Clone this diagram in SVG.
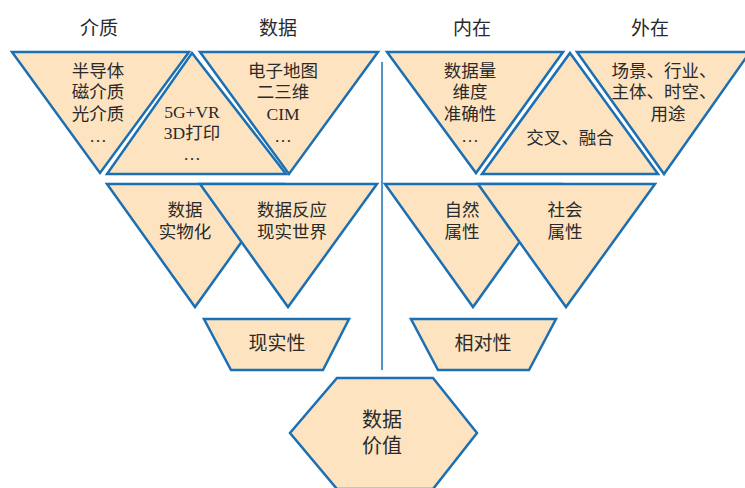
<svg xmlns="http://www.w3.org/2000/svg" width="745" height="488" viewBox="0 0 745 488">
<style>
.s{fill:#fde3c0;stroke:#1b6fb3;stroke-width:2.5;stroke-linejoin:miter}
text{font-family:"Liberation Serif","Noto Sans CJK SC",serif;fill:#2a2a2a;text-anchor:middle;dominant-baseline:central}
.h{font-size:19px}
.t{font-size:17.5px}
.m{font-size:19px}
.v{font-size:20px}
</style>
<rect width="745" height="488" fill="#fff"/>
<g id="headers">
<text class="h" x="99" y="28">介质</text>
<text class="h" x="278" y="28">数据</text>
<text class="h" x="472" y="28">内在</text>
<text class="h" x="650" y="28">外在</text>
</g>
<g id="connectors">
<line x1="382" y1="62" x2="382" y2="370" stroke="#1b6fb3" stroke-width="1.5"/>
</g>
<g id="medium">
<polygon class="s" points="12,52 189,52 100,173"/>
<text class="t" x="98" y="71">半导体</text>
<text class="t" x="98" y="92">磁介质</text>
<text class="t" x="98" y="114">光介质</text>
<text class="t" x="98" y="136">…</text>
</g>
<g id="tech">
<polygon class="s" points="192,53 286,174 107,174"/>
<text class="t" x="192" y="112">5G+VR</text>
<text class="t" x="192" y="133">3D打印</text>
<text class="t" x="192" y="154">…</text>
</g>
<g id="data">
<polygon class="s" points="200,52 378,52 289,174"/>
<text class="t" x="283" y="71">电子地图</text>
<text class="t" x="283" y="92">二三维</text>
<text class="t" x="283" y="114">CIM</text>
<text class="t" x="283" y="136">…</text>
</g>
<g id="intrinsic">
<polygon class="s" points="387,52 563,52 476,173"/>
<text class="t" x="470" y="71">数据量</text>
<text class="t" x="470" y="92">维度</text>
<text class="t" x="470" y="114">准确性</text>
<text class="t" x="470" y="136">…</text>
</g>
<g id="fusion">
<polygon class="s" points="570,53 658,174 482,174"/>
<text class="t" x="570" y="138">交叉、融合</text>
</g>
<g id="extrinsic">
<polygon class="s" points="577,52 750,52 664,174"/>
<text class="t" x="664" y="71">场景、行业、</text>
<text class="t" x="664" y="92">主体、时空、</text>
<text class="t" x="668" y="114">用途</text>
</g>
<g id="materialize">
<polygon class="s" points="107,184 283,184 195,307"/>
<text class="t" x="185" y="210">数据</text>
<text class="t" x="185" y="232">实物化</text>
</g>
<g id="reflect">
<polygon class="s" points="200,184 377,184 288,307"/>
<text class="t" x="292" y="210">数据反应</text>
<text class="t" x="292" y="232">现实世界</text>
</g>
<g id="natural">
<polygon class="s" points="385,184 561,184 473,307"/>
<text class="t" x="462" y="210">自然</text>
<text class="t" x="462" y="232">属性</text>
</g>
<g id="social">
<polygon class="s" points="478,184 655,184 566,307"/>
<text class="t" x="565" y="210">社会</text>
<text class="t" x="565" y="232">属性</text>
</g>
<g id="reality">
<polygon class="s" points="204,319 349,319 323,370 231,370"/>
<text class="m" x="277" y="343">现实性</text>
</g>
<g id="relativity">
<polygon class="s" points="411,319 556,319 529,370 438,370"/>
<text class="m" x="483" y="343">相对性</text>
</g>
<g id="value">
<polygon class="s" points="337,378 433,378 477,433 433,489 337,489 290,433"/>
<text class="v" x="382" y="420">数据</text>
<text class="v" x="382" y="446">价值</text>
</g>
</svg>
